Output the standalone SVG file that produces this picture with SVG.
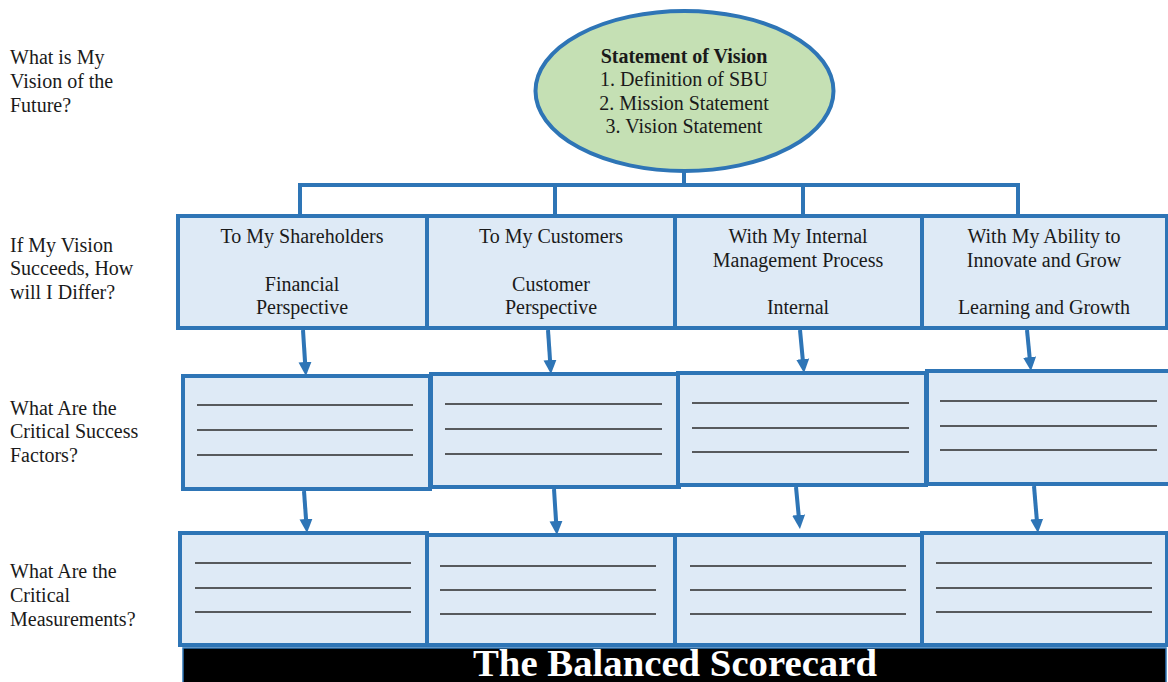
<svg xmlns="http://www.w3.org/2000/svg" width="1168" height="682" viewBox="0 0 1168 682">
<style>
  .t { font-family: "Liberation Serif", "Times New Roman", serif; font-size: 20px; fill: #1a1a1a; }
  .c { text-anchor: middle; }
  .box { fill: #DEEAF6; stroke: #2E75B6; stroke-width: 4; }
  .ln { stroke: #2a2a2a; stroke-width: 1.5; }
  .con { fill: none; stroke: #2E75B6; stroke-width: 4; }
  .arr { fill: none; stroke: #2E75B6; stroke-width: 4; marker-end: url(#ah); }
</style>
<defs>
  <marker id="ah" viewBox="0 0 14 14" refX="4" refY="7" markerWidth="14" markerHeight="14" markerUnits="userSpaceOnUse" orient="auto">
    <path d="M0,0.5 L14,7 L0,13.5 z" fill="#2E75B6"/>
  </marker>
</defs>
<rect width="1168" height="682" fill="#ffffff"/>

<g id="labels">
  <text class="t" x="10" y="64">What is My</text>
  <text class="t" x="10" y="88">Vision of the</text>
  <text class="t" x="10" y="112">Future?</text>
  <text class="t" x="10" y="252">If My Vision</text>
  <text class="t" x="10" y="275">Succeeds, How</text>
  <text class="t" x="10" y="299">will I Differ?</text>
  <text class="t" x="10" y="415">What Are the</text>
  <text class="t" x="10" y="438">Critical Success</text>
  <text class="t" x="10" y="462">Factors?</text>
  <text class="t" x="10" y="578">What Are the</text>
  <text class="t" x="10" y="602">Critical</text>
  <text class="t" x="10" y="626">Measurements?</text>
</g>

<g id="connectors">
  <path class="con" d="M684,171 V185 M300,216 V185 H1018 V216 M555,185 V216 M803,185 V216"/>
  <line class="arr" x1="303" y1="330" x2="305.3" y2="366"/>
  <line class="arr" x1="548" y1="330" x2="550.3" y2="364"/>
  <line class="arr" x1="800" y1="330" x2="803.1" y2="363"/>
  <line class="arr" x1="1027" y1="330" x2="1030" y2="361"/>
  <line class="arr" x1="304" y1="491" x2="306.3" y2="523"/>
  <line class="arr" x1="554" y1="489" x2="556.3" y2="525"/>
  <line class="arr" x1="796" y1="487" x2="799" y2="519"/>
  <line class="arr" x1="1034" y1="486" x2="1037.1" y2="523"/>
</g>

<g id="vision">
  <ellipse cx="684.5" cy="91" rx="149" ry="80" fill="#C5E0B4" stroke="#2E75B6" stroke-width="4"/>
  <text class="t c" x="684" y="63" font-weight="bold">Statement of Vision</text>
  <text class="t c" x="684" y="86">1. Definition of SBU</text>
  <text class="t c" x="684" y="110">2. Mission Statement</text>
  <text class="t c" x="684" y="133">3. Vision Statement</text>
</g>

<g id="financial">
  <rect class="box" x="178" y="216" width="249" height="112"/>
  <text class="t c" x="302" y="243">To My Shareholders</text>
  <text class="t c" x="302" y="291">Financial</text>
  <text class="t c" x="302" y="314">Perspective</text>
</g>
<g id="customer">
  <rect class="box" x="427" y="216" width="248" height="112"/>
  <text class="t c" x="551" y="243">To My Customers</text>
  <text class="t c" x="551" y="291">Customer</text>
  <text class="t c" x="551" y="314">Perspective</text>
</g>
<g id="internal">
  <rect class="box" x="675" y="216" width="247" height="112"/>
  <text class="t c" x="798" y="243">With My Internal</text>
  <text class="t c" x="798" y="267">Management Process</text>
  <text class="t c" x="798" y="314">Internal</text>
</g>
<g id="learning">
  <rect class="box" x="922" y="216" width="245" height="112"/>
  <text class="t c" x="1044" y="243">With My Ability to</text>
  <text class="t c" x="1044" y="267">Innovate and Grow</text>
  <text class="t c" x="1044" y="314">Learning and Growth</text>
</g>

<g id="csf-1">
  <rect class="box" x="183" y="376" width="247" height="113"/>
  <line class="ln" x1="197" y1="405" x2="413" y2="405"/>
  <line class="ln" x1="197" y1="430" x2="413" y2="430"/>
  <line class="ln" x1="197" y1="455" x2="413" y2="455"/>
</g>
<g id="csf-2">
  <rect class="box" x="431" y="374" width="248" height="113"/>
  <line class="ln" x1="445" y1="404" x2="662" y2="404"/>
  <line class="ln" x1="445" y1="429" x2="662" y2="429"/>
  <line class="ln" x1="445" y1="454" x2="662" y2="454"/>
</g>
<g id="csf-3">
  <rect class="box" x="678" y="373" width="248" height="112"/>
  <line class="ln" x1="692" y1="403" x2="909" y2="403"/>
  <line class="ln" x1="692" y1="428" x2="909" y2="428"/>
  <line class="ln" x1="692" y1="452" x2="909" y2="452"/>
</g>
<g id="csf-4">
  <rect class="box" x="927" y="371" width="245" height="113"/>
  <line class="ln" x1="940" y1="401" x2="1157" y2="401"/>
  <line class="ln" x1="940" y1="426" x2="1157" y2="426"/>
  <line class="ln" x1="940" y1="450" x2="1157" y2="450"/>
</g>

<g id="measure-1">
  <rect class="box" x="180" y="533" width="247" height="112"/>
  <line class="ln" x1="195" y1="563" x2="411" y2="563"/>
  <line class="ln" x1="195" y1="588" x2="411" y2="588"/>
  <line class="ln" x1="195" y1="612" x2="411" y2="612"/>
</g>
<g id="measure-2">
  <rect class="box" x="427" y="535" width="248" height="110"/>
  <line class="ln" x1="440" y1="566" x2="656" y2="566"/>
  <line class="ln" x1="440" y1="590" x2="656" y2="590"/>
  <line class="ln" x1="440" y1="614" x2="656" y2="614"/>
</g>
<g id="measure-3">
  <rect class="box" x="675" y="535" width="247" height="110"/>
  <line class="ln" x1="690" y1="566" x2="906" y2="566"/>
  <line class="ln" x1="690" y1="590" x2="906" y2="590"/>
  <line class="ln" x1="690" y1="614" x2="906" y2="614"/>
</g>
<g id="measure-4">
  <rect class="box" x="922" y="533" width="245" height="112"/>
  <line class="ln" x1="936" y1="563" x2="1152" y2="563"/>
  <line class="ln" x1="936" y1="588" x2="1152" y2="588"/>
  <line class="ln" x1="936" y1="612" x2="1152" y2="612"/>
</g>

<g id="title">
  <rect x="183" y="648" width="983" height="36" fill="#000000" stroke="#2E75B6" stroke-width="1.5"/>
  <text x="675" y="676" font-family="Liberation Serif, Times New Roman, serif" font-size="37" font-weight="bold" fill="#ffffff" text-anchor="middle" textLength="404" lengthAdjust="spacingAndGlyphs">The Balanced Scorecard</text>
</g>
</svg>
